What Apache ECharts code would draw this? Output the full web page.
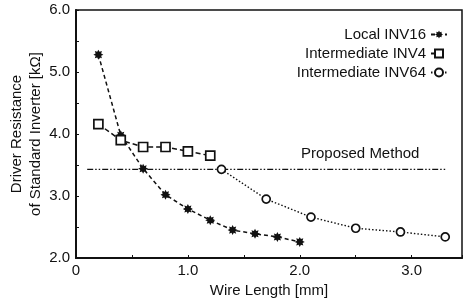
<!DOCTYPE html>
<html>
<head>
<meta charset="utf-8">
<script src="https://cdn.jsdelivr.net/npm/echarts@6/dist/echarts.min.js"></script>
<style>
  html, body { margin: 0; padding: 0; background: #fff; }
  #chart { width: 464px; height: 304px; }
</style>
</head>
<body>
<div id="chart"></div>
<script>
// wire length [mm] / driver resistance [kOhm]
const localX = [0.2, 0.4, 0.6, 0.8, 1.0, 1.2, 1.4, 1.6, 1.8, 2.0]
const localY = [5.28, 3.98, 3.44, 3.02, 2.79, 2.61, 2.45, 2.39, 2.34, 2.26]
const inv4X = [0.2, 0.4, 0.6, 0.8, 1.0, 1.2]
const inv4Y = [4.16, 3.9, 3.79, 3.79, 3.72, 3.65]
const inv64X = [1.3, 1.7, 2.1, 2.5, 2.9, 3.3]
const inv64Y = [3.43, 2.95, 2.66, 2.48, 2.42, 2.34]
const proposedX = [0.1, 3.3]
const proposedY = [3.43, 3.43]

const font = 'Liberation Sans, Arial, sans-serif'
const ink = '#111'

// 8-point asterisk marker
function starPath() {
  const pts = []
  for (let i = 0; i < 16; i++) {
    const r = i % 2 === 0 ? 10 : 6
    const a = Math.PI * i / 8
    pts.push((10 + r * Math.sin(a)).toFixed(2) + ' ' + (10 - r * Math.cos(a)).toFixed(2))
  }
  return 'path://M' + pts.join(' L') + ' Z'
}

const pair = (xs, ys) => xs.map((x, i) => [x, ys[i]])

const chart = echarts.init(document.getElementById('chart'))
chart.setOption({
  animation: false,
  textStyle: { fontFamily: font, color: ink },
  grid: {
    left: 76, top: 10, right: 2, bottom: 46,
    containLabel: false, outerBoundsMode: 'none',
    show: true, borderColor: ink, borderWidth: 1.5
  },
  legend: {
    data: ['Local INV16', 'Intermediate INV4', 'Intermediate INV64'],
    orient: 'vertical',
    right: 11, top: 22,
    align: 'right',
    itemWidth: 16, itemHeight: 10, itemGap: 4,
    textStyle: { fontSize: 15, color: ink, fontFamily: font }
  },
  xAxis: {
    type: 'value',
    min: 0, max: 3.45, interval: 0.5,
    name: 'Wire Length [mm]',
    nameLocation: 'middle', nameGap: 24,
    nameTextStyle: { fontSize: 15, color: ink },
    axisLine: { lineStyle: { color: ink, width: 2 } },
    axisTick: { inside: true, length: 3, lineStyle: { color: ink } },
    splitLine: { show: false },
    axisLabel: {
      fontSize: 15, color: ink, margin: 5,
      formatter: v => v === 0 ? '0' : (Math.abs(v % 1) < 1e-6 ? v.toFixed(1) : '')
    }
  },
  yAxis: {
    type: 'value',
    min: 2, max: 6, interval: 0.5,
    name: 'Driver Resistance\nof Standard Inverter [kΩ]',
    nameLocation: 'middle', nameRotate: 90, nameGap: 31,
    nameMoveOverlap: false,
    nameTextStyle: { fontSize: 15, color: ink, lineHeight: 19, align: 'center' },
    axisLine: { lineStyle: { color: ink, width: 2 } },
    axisTick: { inside: true, length: 3, lineStyle: { color: ink } },
    splitLine: { show: false },
    axisLabel: {
      fontSize: 15, color: ink, margin: 6,
      formatter: v => Math.abs(v % 1) < 1e-6 ? v.toFixed(1) : ''
    }
  },
  graphic: [{
    type: 'text', left: 301, top: 146,
    style: { text: 'Proposed Method', font: '15px ' + font, fill: ink }
  }],
  series: [
    {
      name: 'Proposed Method', type: 'line', data: pair(proposedX, proposedY),
      symbol: 'none', z: 1,
      lineStyle: { color: ink, width: 1.3, type: [6, 2, 1.5, 2, 1.5, 2] }
    },
    {
      name: 'Local INV16', type: 'line', data: pair(localX, localY),
      symbol: starPath(), symbolSize: 10,
      itemStyle: { color: ink },
      lineStyle: { color: ink, width: 1.5, type: [4, 3] }
    },
    {
      name: 'Intermediate INV4', type: 'line', data: pair(inv4X, inv4Y),
      symbol: 'rect', symbolSize: 9,
      itemStyle: { color: '#fff', borderColor: ink, borderWidth: 1.7 },
      lineStyle: { color: ink, width: 1.5, type: [5, 3] }
    },
    {
      name: 'Intermediate INV64', type: 'line', data: pair(inv64X, inv64Y),
      symbol: 'circle', symbolSize: 8,
      itemStyle: { color: '#fff', borderColor: ink, borderWidth: 1.7 },
      lineStyle: { color: ink, width: 1.4, type: [1.5, 2] }
    }
  ]
})
</script>
</body>
</html>
